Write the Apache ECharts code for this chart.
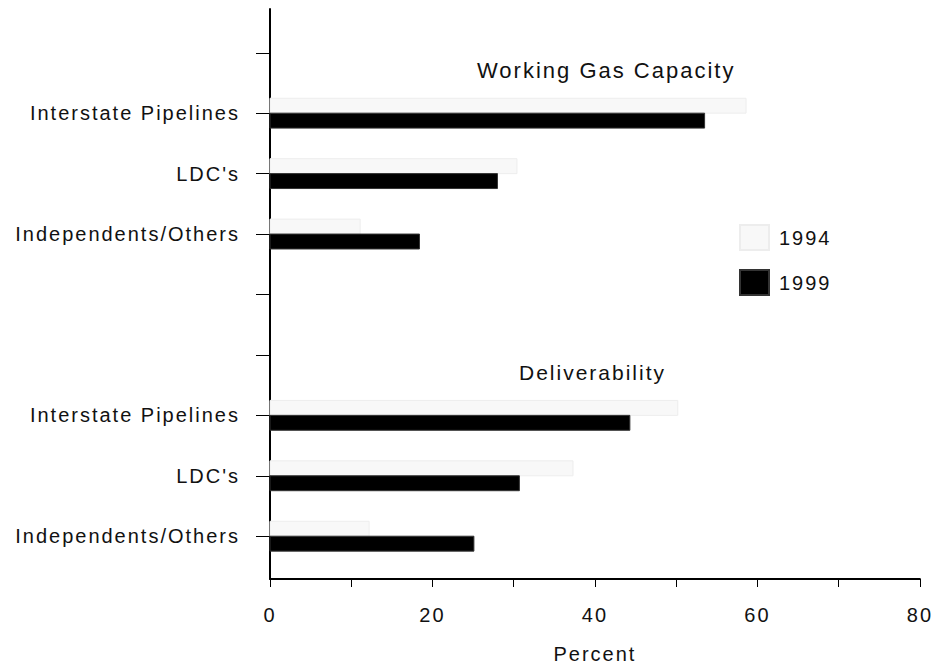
<!DOCTYPE html>
<html>
<head>
<meta charset="utf-8">
<script src="https://cdn.jsdelivr.net/npm/echarts@6/dist/echarts.min.js"></script>
<style>
  html, body { margin: 0; padding: 0; background: #fff; }
  #main { width: 934px; height: 669px; }
  #main svg text { letter-spacing: 2px; }
</style>
</head>
<body>
<div id="main"></div>
<script>
// Category slots along the vertical axis (blank slots are unlabeled tick positions)
const categories = ['', 'Interstate Pipelines', "LDC's", 'Independents/Others', '', '', 'Interstate Pipelines', "LDC's", 'Independents/Others'];
const labeledSlots = [1, 2, 3, 6, 7, 8];
const tickSlots = [0, 1, 2, 3, 4, 5, 6, 7, 8];
const sectionTitles = ['Working Gas Capacity', 'Deliverability'];
const seriesNames = ['1994', '1999'];
// Percent values (slot order: 1,2,3 = Working Gas Capacity; 6,7,8 = Deliverability)
const values1994 = [58.6, 30.4, 11.1, 50.2, 37.3, 12.2];
const values1999 = [53.5, 28.0, 18.4, 44.3, 30.7, 25.1];
const xTickLabels = [0, 20, 40, 60, 80];

const FONT = "'Liberation Sans', Arial, sans-serif";
const chart = echarts.init(document.getElementById('main'), null, { renderer: 'svg' });

const barUnits = 0.247;
function makeRender(above) {
  return function (params, api) {
    const v = api.value(0), p = api.value(1);
    const s = api.coord([0, p]);
    const e = api.coord([v, p]);
    const h = api.size([0, barUnits])[1];
    return {
      type: 'rect',
      shape: { x: s[0], y: above ? s[1] - h : s[1], width: e[0] - s[0], height: h },
      style: api.style()
    };
  };
}

const data1994 = values1994.map((v, i) => [v, labeledSlots[i]]);
const data1999 = values1999.map((v, i) => [v, labeledSlots[i]]);

chart.setOption({
  animation: false,
  backgroundColor: '#fff',
  textStyle: { fontFamily: FONT },
  title: [
    { text: sectionTitles[0], left: 472, top: 54, textStyle: { fontFamily: FONT, fontSize: 22, fontWeight: 'normal', color: '#111' } },
    { text: sectionTitles[1], left: 514, top: 357, textStyle: { fontFamily: FONT, fontSize: 21, fontWeight: 'normal', color: '#111' } }
  ],
  legend: {
    orient: 'vertical',
    left: 734, top: 219,
    itemWidth: 29, itemHeight: 25, itemGap: 18,
    icon: 'rect',
    data: seriesNames,
    selectedMode: false,
    textStyle: { fontFamily: FONT, fontSize: 20, color: '#111', padding: [1, 0, 0, 5] }
  },
  grid: { left: 270, right: 14, top: 9, bottom: 87, containLabel: false },
  xAxis: {
    type: 'value', min: 0, max: 80, interval: 10,
    name: 'Percent', nameLocation: 'middle', nameGap: 65,
    nameTextStyle: { fontFamily: FONT, fontSize: 20, color: '#111' },
    axisLine: { show: true, onZero: false, lineStyle: { color: '#000', width: 2 } },
    axisTick: { show: true, length: 8, lineStyle: { color: '#000', width: 1 } },
    axisLabel: {
      margin: 26, fontFamily: FONT, fontSize: 20, color: '#111',
      formatter: v => xTickLabels.includes(v) ? String(v) : ''
    },
    splitLine: { show: false }
  },
  yAxis: {
    type: 'value', inverse: true, min: -0.724, max: 8.708,
    axisLine: { show: true, onZero: false, lineStyle: { color: '#000', width: 2 } },
    axisTick: { show: true, length: 14, customValues: tickSlots, lineStyle: { color: '#000', width: 1 } },
    axisLabel: {
      show: true, margin: 30, fontFamily: FONT, fontSize: 20, color: '#111',
      customValues: labeledSlots,
      formatter: v => categories[Math.round(v)] || ''
    },
    splitLine: { show: false }
  },
  series: [
    {
      name: seriesNames[0], type: 'custom', renderItem: makeRender(true),
      encode: { x: 0, y: 1 }, data: data1994,
      itemStyle: { color: '#f8f8f8', borderColor: '#ededed', borderWidth: 1 }
    },
    {
      name: seriesNames[1], type: 'custom', renderItem: makeRender(false),
      encode: { x: 0, y: 1 }, data: data1999,
      itemStyle: { color: '#000', borderColor: '#333', borderWidth: 1 }
    }
  ]
});
</script>
</body>
</html>
